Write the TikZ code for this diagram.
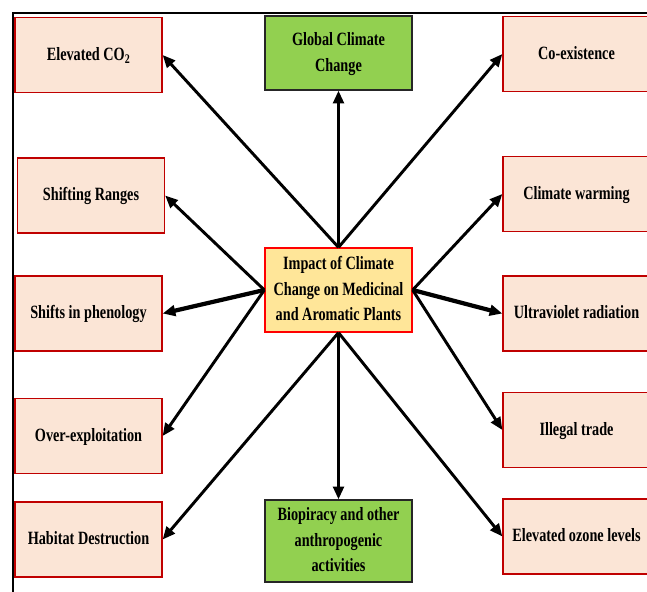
\documentclass[tikz,border=0pt]{standalone}
\usepackage{fontspec}
\setmainfont{Liberation Serif}
\usepackage{xcolor}
\usepackage{graphicx}
\usetikzlibrary{positioning,arrows.meta}
\definecolor{peach}{HTML}{FBE5D6}
\definecolor{boxred}{HTML}{C00000}
\definecolor{leaf}{HTML}{92D050}
\definecolor{sand}{HTML}{FFE699}
% narrow bold lettering of the boxes
\newcommand{\narrow}[1]{\scalebox{0.76}[1]{\begin{tabular}{@{}c@{}}#1\end{tabular}}}
\tikzset{
  effect/.style={
    draw=boxred, line width=1.1pt, fill=peach,
    minimum width=4.41cm, minimum height=2.25cm,
    inner sep=1pt, font=\bfseries\fontsize{16}{22}\selectfont},
  driver/.style={
    draw=black!85, line width=1.1pt, fill=leaf,
    minimum width=4.41cm, inner sep=1pt,
    font=\bfseries\fontsize{16}{22}\selectfont},
  core/.style={
    draw=red, line width=1.1pt, fill=sand,
    minimum width=4.41cm, minimum height=2.52cm,
    inner sep=1pt, font=\bfseries\fontsize{16}{22}\selectfont},
  link/.style={line width=2.5pt, -{Triangle[length=3.8mm,width=3.2mm]}},
  boldlink/.style={link, line width=3.6pt},
}
\begin{document}
\begin{tikzpicture}[x=0.03cm, y=-0.03cm]

  \clip (0,0) rectangle (647,592);
  \fill[white] (0,0) rectangle (647,592);
  \draw[line width=2.4pt] (13,600) -- (13,13) -- (660,13);

  % centre
  \node[core] (ctr) at (338.5,290)
    {\narrow{Impact of Climate\\Change on Medicinal\\and Aromatic Plants}};

  % drivers
  \node[driver, minimum height=2.22cm] (gcc) at (338.5,53)
    {\narrow{Global Climate\\Change}};
  \node[driver, minimum height=2.46cm] (bio) at (338.5,541)
    {\narrow{Biopiracy and other\\anthropogenic\\activities}};

  % left column
  \node[effect] (co2) at (88.5,55) {\narrow{Elevated CO\textsubscript{2}}};
  \node[effect] (range) at (91,195.5) {\narrow{Shifting Ranges}};
  \node[effect] (pheno) at (88.5,313.5) {\narrow{Shifts in phenology}};
  \node[effect] (exploit) at (88.5,436) {\narrow{Over-exploitation}};
  \node[effect] (habitat) at (88.5,539.5) {\narrow{Habitat Destruction}};

  % right column
  \node[effect] (coex) at (576.5,54) {\narrow{Co-existence}};
  \node[effect] (warm) at (576.5,194) {\narrow{Climate warming}};
  \node[effect] (uv) at (576.5,313.5) {\narrow{Ultraviolet radiation}};
  \node[effect] (trade) at (576.5,430) {\narrow{Illegal trade}};
  \node[effect] (ozone) at (576.5,536.5) {\narrow{Elevated ozone levels}};

  \draw[link] (ctr.north) -- (gcc.south);
  \draw[link] (ctr.north) -- (co2.east);
  \draw[link] (ctr.north) -- (coex.west);
  \draw[link] (ctr.west) -- (range.east);
  \draw[boldlink] (ctr.west) -- (pheno.east);
  \draw[link] (ctr.west) -- (exploit.east);
  \draw[link] (ctr.east) -- (warm.west);
  \draw[boldlink] (ctr.east) -- (uv.west);
  \draw[link] (ctr.east) -- (trade.west);
  \draw[link] (ctr.south) -- (bio.north);
  \draw[link] (ctr.south) -- (habitat.east);
  \draw[link] (ctr.south) -- (ozone.west);

\end{tikzpicture}
\end{document}
